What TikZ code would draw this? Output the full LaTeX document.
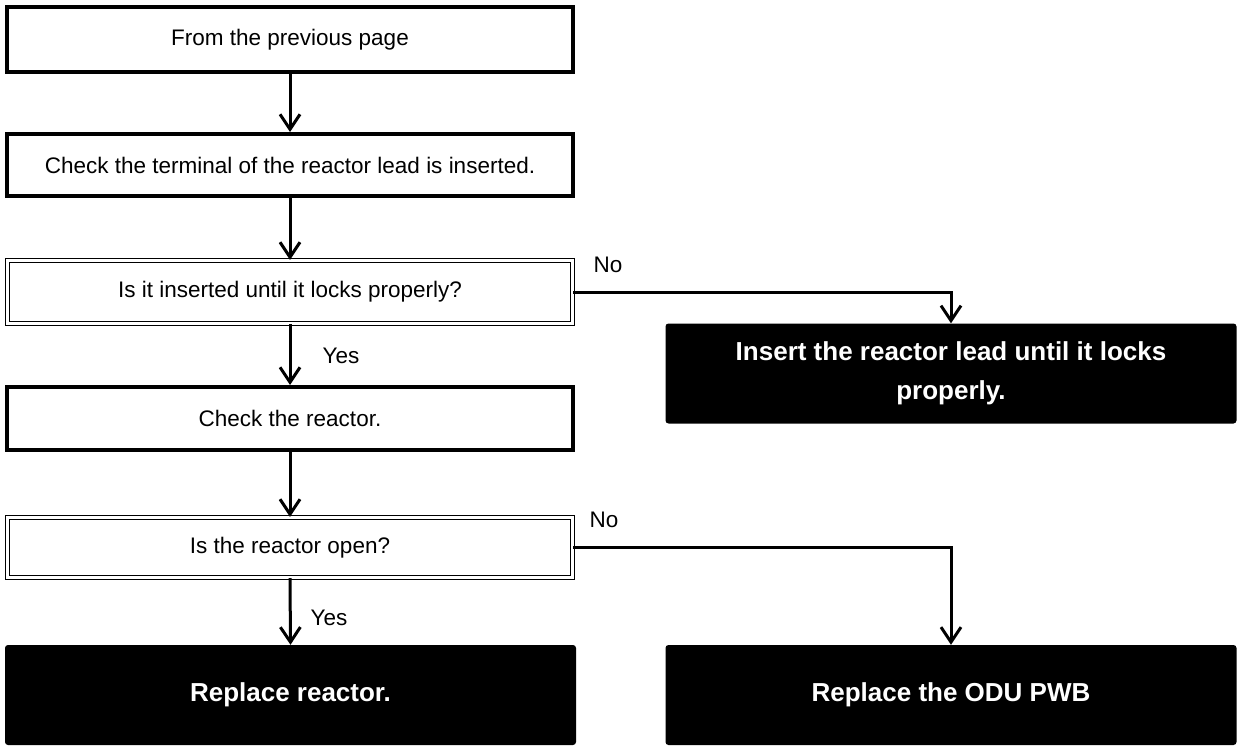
\documentclass[tikz,border=0pt]{standalone}
\usepackage{fontspec}
\setmainfont{Liberation Sans}
\usetikzlibrary{positioning}
\usetikzlibrary{arrows.meta}

\begin{document}
\begin{tikzpicture}[x=1pt, y=-1pt,
    box/.style={draw, line width=4pt, minimum width=566pt, inner sep=0pt,
        font=\fontsize{22.5}{27}\selectfont},
    askbox/.style={draw, line width=1.2pt, double, double distance=2.6pt,
        minimum width=565pt, minimum height=63pt, inner sep=0pt,
        font=\fontsize{22.5}{27}\selectfont},
    endbox/.style={fill=black, text=white, rounded corners=3pt,
        minimum width=571pt, minimum height=100pt, inner sep=0pt,
        align=center, font=\bfseries\fontsize{26}{39}\selectfont},
    flow/.style={line width=3pt, -{Straight Barb[length=15pt, width=20pt]}},
    tag/.style={font=\fontsize{22.5}{27}\selectfont}]
    \useasboundingbox (0,0) rectangle (1237,749);

    % Main column
    \node[box, minimum height=65pt] (start) at (290, 39.5) {From the previous page};
    \node[box, minimum height=62pt] (terminal) at (290, 165) {Check the terminal of the reactor lead is inserted.};
    \node[askbox] (locked) at (290, 292) {Is it inserted until it locks properly?};
    \node[box, minimum height=63pt] (reactor) at (290, 418.5) {Check the reactor.};
    \node[askbox, minimum height=60pt] (open) at (290, 547.5) {Is the reactor open?};
    \node[endbox] (replace) at (290.5, 695) {Replace reactor.};

    % Right column
    \node[endbox] (insert) at (951, 373.5) {Insert the reactor lead until it locks\\properly.};
    \node[endbox] (pwb) at (951, 695) {Replace the ODU PWB};

    % Yes branches
    \foreach \a/\b in {start/terminal, terminal/locked, locked/reactor, reactor/open, open/replace} {
        \draw[flow] (\a.south) -- (\b.north);
    }
    \node[tag] (yes1) at (341, 356) {Yes};
    \node[tag] (yes2) at (329, 618) {Yes};

    % No branches
    \draw[flow] (locked.east) -| (insert.north);
    \draw[flow] (open.east) -| (pwb.north);
    \node[tag] (no1) at (608, 265) {No};
    \node[tag] (no2) at (604, 520) {No};
\end{tikzpicture}
\end{document}
